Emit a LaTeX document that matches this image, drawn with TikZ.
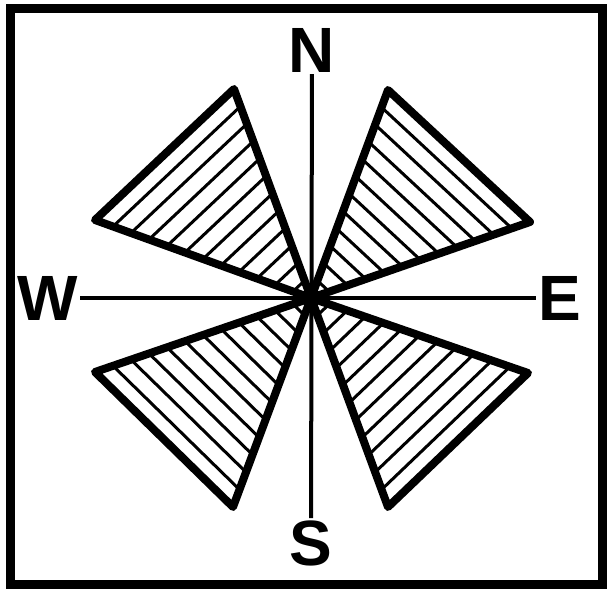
\documentclass[tikz,border=0pt]{standalone}
\usepackage{fontspec}
\setmainfont{Liberation Sans}
\usetikzlibrary{calc}
\begin{document}
\begin{tikzpicture}[x=1pt, y=-1pt,
    every node/.style={font=\fontsize{64}{64}\selectfont\bfseries, inner sep=2pt},
    marco/.style={line width=9pt},
    eje/.style={line width=4pt},
    petalo/.style={line width=8pt, line join=round},
    rayado/.style={line width=3pt}
  ]
  \useasboundingbox (0,0) rectangle (608,593);
  % Marco exterior
  \draw[marco] (10,9) rectangle (602,584);
  % Puntos cardinales y ejes
  \coordinate (c) at (311,298);
  \node (n) at (312,50)  {N};
  \node (s) at (311,543) {S};
  \node (w) at (48,298)  {W};
  \node (e) at (560,298) {E};
  \draw[eje] (w) -- (e);
  \draw[eje] (n) -- (s);
  % Pétalos rayados con vértice en el centro
  \foreach \ax/\ay/\bx/\by in {234/89/95/220, 388/90/530/222, 95/372/233/507, 528/373/388/507} {
    \foreach \t in {1,...,11} {
      \draw[rayado] ($(\ax,\ay)!\t/12!(c)$) -- ($(\bx,\by)!\t/12!(c)$);
    }
    \draw[petalo] (c) -- (\ax,\ay) -- (\bx,\by) -- cycle;
  }
  \fill (c) circle (7pt);
\end{tikzpicture}
\end{document}
